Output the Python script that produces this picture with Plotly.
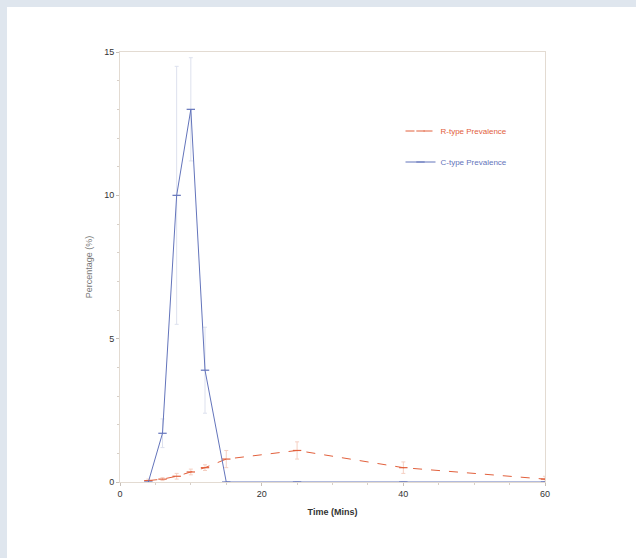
import plotly.graph_objects as go

time_r = [4, 6, 8, 10, 12, 15, 25, 40, 60]
r_type = [0.05, 0.1, 0.2, 0.35, 0.5, 0.8, 1.1, 0.5, 0.1]
r_err = [0.05, 0.05, 0.1, 0.1, 0.1, 0.3, 0.3, 0.2, 0.1]

time_c = [4, 6, 8, 10, 12, 15, 25, 40, 60]
c_type = [0.0, 1.7, 10.0, 13.0, 3.9, 0.0, 0.0, 0.0, 0.0]
c_err = [0.0, 0.5, 4.5, 1.8, 1.5, 0.0, 0.0, 0.0, 0.0]

x_ticks = [0, 20, 40, 60]
y_ticks = [0, 5, 10, 15]

red = "#e2603c"
blue = "#6374bb"

fig = go.Figure()
fig.add_trace(go.Scatter(
    x=time_r, y=r_type, name=f'<span style="color:{red}">R-type Prevalence</span>',
    mode="lines+markers",
    line=dict(color=red, width=1, dash="dash"),
    marker=dict(symbol="line-ew", size=6, line=dict(color=red, width=1.2)),
    error_y=dict(type="data", array=r_err, color="#f5cfc2", thickness=1, width=2),
    legendgroup="r",
))
fig.add_trace(go.Scatter(
    x=time_c, y=c_type, name=f'<span style="color:{blue}">C-type Prevalence</span>',
    mode="lines+markers",
    line=dict(color=blue, width=1),
    marker=dict(symbol="line-ew", size=6, line=dict(color=blue, width=1.2)),
    error_y=dict(type="data", array=c_err, color="#dde1ee", thickness=1, width=2),
    legendgroup="c",
))

# outer frame (white panel inside a light blue-gray band)
fig.add_shape(type="rect", xref="paper", yref="paper", layer="below",
              x0=-0.2659, x1=1.3, y0=-0.3, y1=1.1047,
              fillcolor="white", line=dict(width=0))

axis_common = dict(showgrid=False, zeroline=False, showline=True, mirror=True,
                   linecolor="#e3dbd2", linewidth=1, ticks="outside", ticklen=3,
                   tickcolor="#c8c0b8",
                   tickfont=dict(family="Liberation Sans", size=9, color="#333333"))

fig.update_layout(
    width=636, height=558,
    paper_bgcolor="#dfe6ee", plot_bgcolor="white",
    margin=dict(l=120, r=91, t=52, b=76),
    showlegend=True,
    legend=dict(x=0.66, y=0.85, xanchor="left", yanchor="top",
                bgcolor="rgba(0,0,0,0)", tracegroupgap=12,
                font=dict(family="Liberation Sans", size=8)),
    xaxis=dict(range=[0, 60], tickvals=x_ticks,
               title=dict(text="<b>Time (Mins)</b>", font=dict(family="Liberation Sans", size=9, color="#333333"), standoff=10),
               minor=dict(ticks="outside", dtick=5, ticklen=2, tickcolor="#d8d0c8"),
               **axis_common),
    yaxis=dict(range=[0, 15], tickvals=y_ticks,
               title=dict(text="Percentage (%)", font=dict(family="Liberation Sans", size=9, color="#777777"), standoff=10),
               minor=dict(ticks="outside", dtick=1, ticklen=2, tickcolor="#d8d0c8"),
               **axis_common),
)
fig.update_xaxes(tickprefix="<b>", ticksuffix="</b>")
fig.update_yaxes(tickprefix="<b>", ticksuffix="</b>")
fig.write_html("out.html", config={"displayModeBar": False},
               post_script="document.body.style.margin='0';")
